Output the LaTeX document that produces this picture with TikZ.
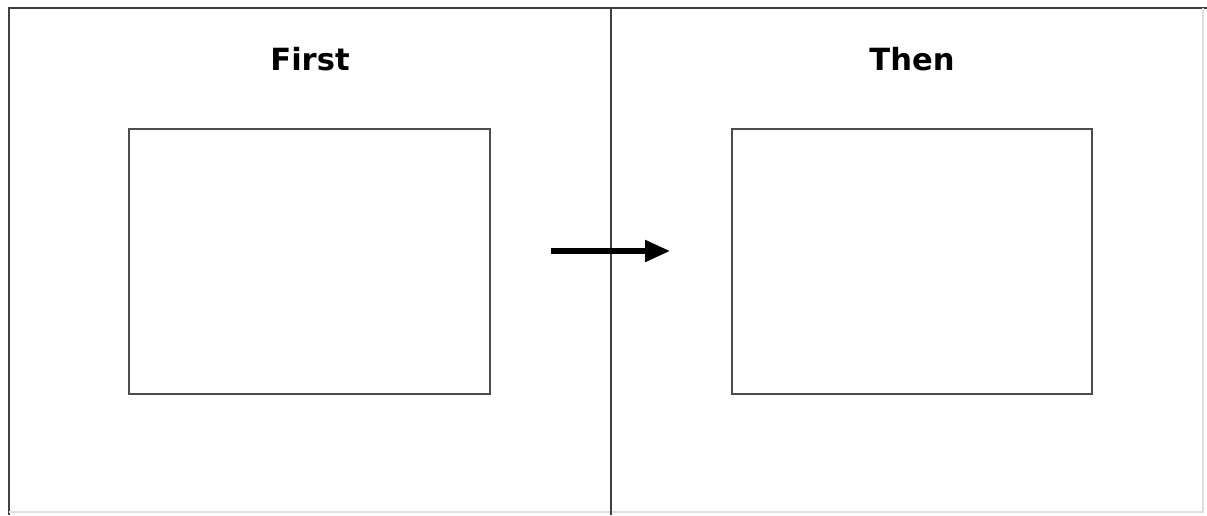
\documentclass[tikz,border=0pt]{standalone}
\usepackage{fontspec}
\setmainfont{DejaVu Sans}
\usetikzlibrary{arrows.meta}

\begin{document}
\begin{tikzpicture}[x=0.02cm, y=-0.02cm]
    % Canvas (fixes the margins)
    \useasboundingbox (0, 0) rectangle (1207, 515);

    % Outer frame and the divider between the two panels
    \draw[line width=1.2pt, draw=black!75] (9, 515) -- (9, 8) -- (1207, 8);
    \draw[line width=0.6pt, draw=gray!25] (1203, 8) -- (1203, 512) -- (9, 512);
    \draw[line width=1.2pt, draw=black!75] (611, 8) -- (611, 515);

    % Panel titles
    \node[font=\bfseries\fontsize{17.4}{20}\selectfont] (first) at (310, 59) {First};
    \node[font=\bfseries\fontsize{17.4}{20}\selectfont] (then) at (912, 59) {Then};

    % Empty frames (one per panel)
    \draw[line width=0.7pt, draw=black!70] (129, 129) rectangle (490, 394);
    \draw[line width=0.7pt, draw=black!70] (732, 129) rectangle (1092, 394);

    % Arrow across the divider
    \coordinate (from) at (551, 251);
    \coordinate (to) at (670, 251);
    \draw[line width=3pt, -{Triangle[length=0.5cm, width=0.42cm]}] (from) -- (to);
\end{tikzpicture}
\end{document}
